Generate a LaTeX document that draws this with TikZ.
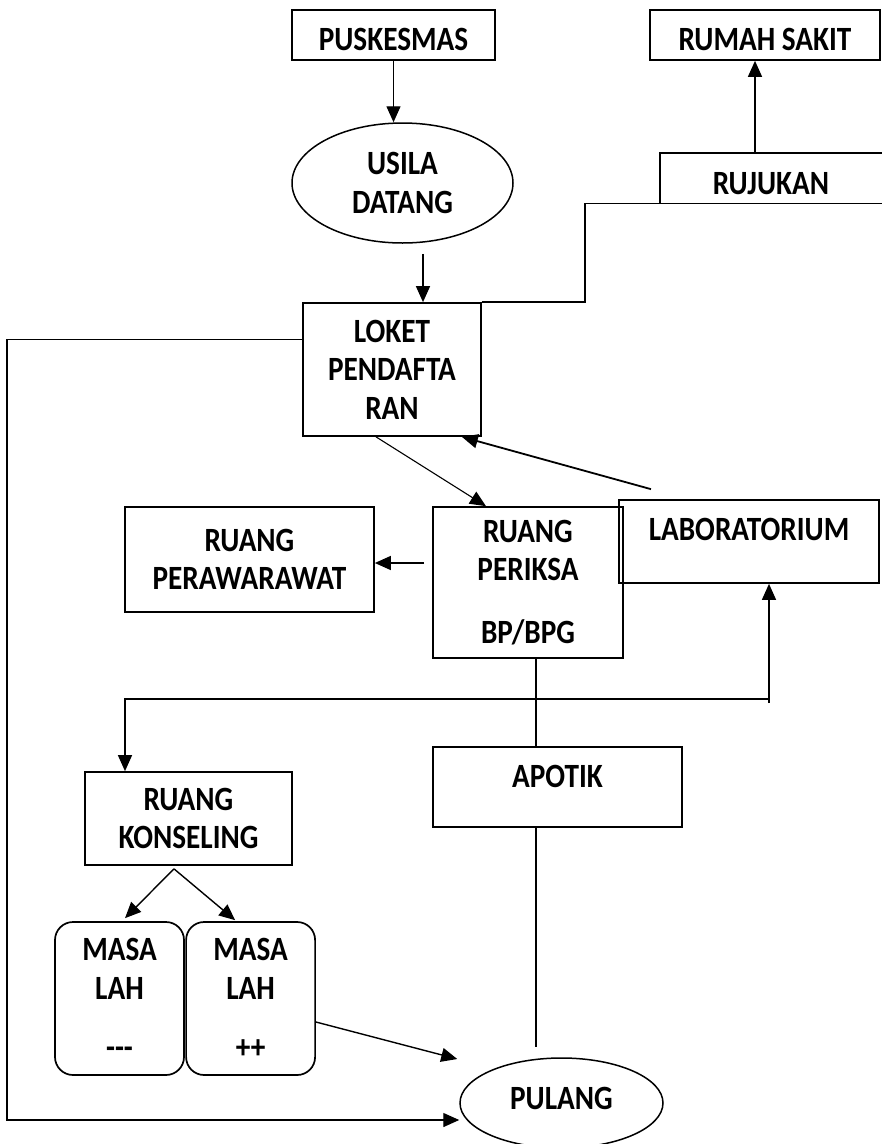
\documentclass[tikz,border=0pt]{standalone}
\usepackage{fontspec}
\setmainfont{Carlito}[FakeStretch=0.86]
\usepackage{tikz}
\usetikzlibrary{positioning,calc,arrows.meta,shapes.geometric}

\begin{document}
\begin{tikzpicture}[x=1pt,y=-1pt,
    txt/.style={font=\fontsize{34}{38.5}\selectfont\bfseries},
    box/.style={rectangle,draw,line width=1.7pt,inner sep=0pt,align=center,txt},
    oval/.style={ellipse,draw,line width=1.5pt,inner sep=0pt,align=center,txt},
    soft/.style={box,rounded corners=18pt},
    edge/.style={-{Triangle[length=16pt,width=14pt]},line width=1.4pt},
    link/.style={line width=1.4pt}]

    \fill[white] (0,0) rectangle (882,1144);
    \useasboundingbox (0,0) rectangle (882,1144);

    %--------------------------------------------
    % Nodes
    \node[box,anchor=base,minimum width=203pt,text height=40pt,text depth=10pt](puskesmas) at (393.5,50){PUSKESMAS};

    \node[box,anchor=base,minimum width=230pt,text height=40pt,text depth=10pt](rs) at (765,50){RUMAH SAKIT};

    \node[oval,minimum width=221pt,minimum height=120pt](usila) at (402.5,183){USILA\\DATANG};

    \node[txt,anchor=base,inner sep=0pt,minimum width=222pt,text height=41pt,text depth=9pt](rujukan) at (771,194){RUJUKAN};

    \node[box,minimum width=178pt,minimum height=133pt](loket) at (392,369.5){LOKET\\PENDAFTA\\RAN};

    \node[box,minimum width=190pt,minimum height=151pt](periksa) at (528,582.5){RUANG\\PERIKSA\\[24pt]BP/BPG};

    \node[box,minimum width=249pt,minimum height=105pt](perawat) at (249.5,559.5){RUANG\\PERAWARAWAT};

    \node[box,anchor=base,minimum width=260pt,text height=40pt,text depth=43pt](lab) at (749,540){LABORATORIUM};

    \node[box,anchor=base,minimum width=249pt,text height=40pt,text depth=40pt](apotik) at (557.5,787){APOTIK};

    \node[box,minimum width=207pt,minimum height=93pt](konsel) at (188.5,818.5){RUANG\\KONSELING};

    \node[soft,minimum width=129pt,minimum height=153pt](masa1) at (119.5,998.5){MASA\\LAH\\[21pt]-{}-{}-};

    \node[soft,right=0.4pt of masa1,minimum width=129pt,minimum height=153pt](masa2){MASA\\LAH\\[21pt]++};

    \node[oval,minimum width=203pt,minimum height=90pt,text height=28pt,text depth=16pt](pulang) at (561.5,1103){PULANG};

    %--------------------------------------------
    % Edges
    \draw[edge] (puskesmas.south) -- (puskesmas.south |- usila.north);
    \draw[edge] ($(usila.south)+(20.5,10)$) -- ($(usila.south |- loket.north)+(20.5,0)$);

    % Referral to the hospital
    \draw[link] (rujukan.north east) -- (rujukan.north west) -- (rujukan.south west);
    \draw[link] (loket.north east) -- ++(103,0) |- (rujukan.south east);
    \draw[edge] ($(rujukan.north)+(-16,0)$) -- ($(rujukan.north |- rs.south)+(-16,0)$);

    \draw[edge] ([yshift=30pt]loket.west) -- ++(-295,0) |- ([yshift=-17pt]pulang.west);
    \draw[edge,line width=1.1pt] ([xshift=-16pt]loket.south) -- ([xshift=-42pt]periksa.north);
    \draw[edge,line width=1.8pt] ([xshift=-98pt,yshift=10pt]lab.north) -- ([xshift=-20pt]loket.south east);
    \draw[edge] ($(periksa.west |- perawat.east)+(-8,3.5)$) -- ($(perawat.east)+(0,3.5)$);

    % Through the pharmacy
    \draw[link] ($(periksa.south)+(8,0)$) -- ($(periksa.south |- apotik.north)+(8,0)$);
    \draw[link] ($(periksa.south |- apotik.south)+(8,0)$) -- ($(periksa.south |- pulang.north)+(8,-10)$);

    % Laboratory and counselling
    \coordinate (turn) at (769,699);
    \draw[edge] ($(turn)+(0,4)$) -- (turn |- lab.south);
    \draw[edge] (turn) -| ($(konsel.north)+(-63.5,0)$);

    \draw[edge] ($(konsel.south)+(-14.5,3)$) -- ($(masa1.north)+(5.5,-3)$);
    \draw[edge] ($(konsel.south)+(-14.5,3)$) -- ($(masa2.north)+(-15.5,-1)$);
    \draw[edge] ($(masa2.east)+(0,23.5)$) -- ($(pulang.west)+(-2,-44)$);
\end{tikzpicture}
\end{document}
